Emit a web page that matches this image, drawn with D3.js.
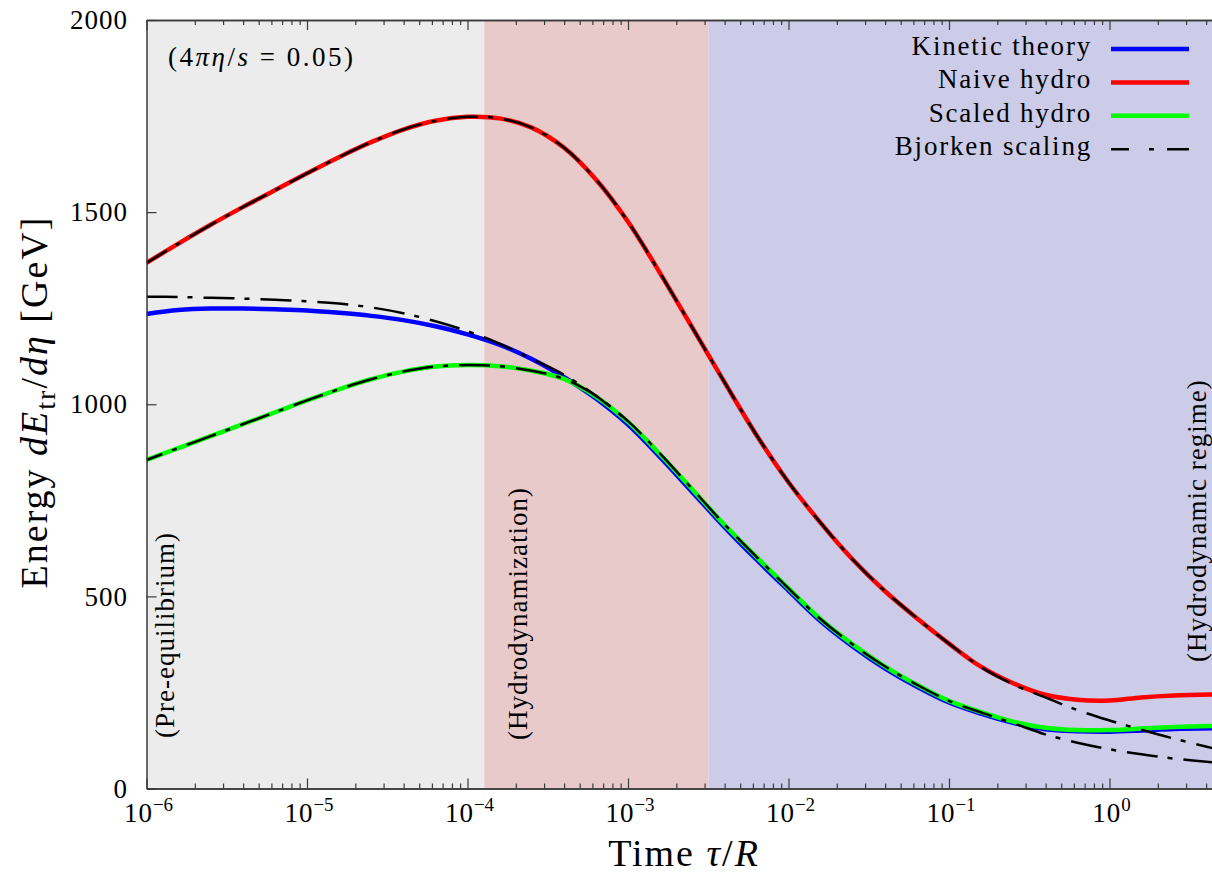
<!DOCTYPE html>
<html><head><meta charset="utf-8">
<script src="https://cdn.jsdelivr.net/npm/d3@7"></script>
<style>
body{margin:0;background:#fff}
text{font-family:"Liberation Serif","DejaVu Serif",serif;fill:#000}
</style>
</head><body>
<svg id="c" width="1212" height="875"></svg>
<script>
// ---- data ----
const tau = [1e-6,1.58e-6,2.51e-6,3.98e-6,6.31e-6,1e-5,1.58e-5,2.51e-5,3.98e-5,6.31e-5,
  1e-4,1.58e-4,2.51e-4,3.98e-4,6.31e-4,1e-3,1.58e-3,2.51e-3,3.98e-3,6.31e-3,
  0.01,0.0158,0.0251,0.0398,0.0631,0.1,0.158,0.251,0.398,0.631,1,1.58,2.51,4.4];
const kinetic = [1235,1245,1249,1249,1247,1244,1238,1230,1219,1203,
  1182,1155,1118,1071,1015,947,863,772,681,596,
  515,436,370,313,265,224,195,171,154,149,148,151,155,157];
const naiveHydro = [1368,1418,1467,1513,1557,1601,1643,1682,1715,1738,
  1748,1744,1720,1668,1585,1475,1342,1200,1058,920,
  797,692,596,514,443,377,317,274,244,231,229,237,242,245];
const scaledHydro = [855,886,917,948,979,1010,1039,1065,1085,1098,
  1102,1099,1087,1066,1020,954,870,779,687,603,
  521,441,375,318,270,228,199,174,158,152,152,156,160,163];
// Bjorken curve matched to kinetic theory: merges with the scaled-hydro one after ~1e-3
const bjorkenKinetic = [1280,1279,1277,1275,1272,1268,1262,1252,1237,1216,
  1190,1158,1118,1077,1022,956,null,null,null,null,
  null,null,null,null,null,null,null,null,null,null,null,null,null,null];
const bjorkenNaive = [1368,1418,1467,1513,1557,1601,1643,1682,1715,1738,
  1748,1744,1720,1668,1585,1475,1342,1200,1058,920,
  797,692,596,514,443,377,316,271,237,204,177,153,130,105];
const bjorkenScaled = [855,886,917,948,979,1010,1039,1065,1085,1098,
  1102,1099,1087,1066,1022,956,872,780,688,603,
  521,441,375,318,270,228,198,170,141,119,102,89,78,68];
const regionEdges = [1e-6, 1.27e-4, 3.18e-3, 4.4];
const regionNames = ["(Pre-equilibrium)","(Hydrodynamization)","(Hydrodynamic regime)"];
const yTicks = [0,500,1000,1500,2000];
const xTickExps = [-6,-5,-4,-3,-2,-1,0];
const legendLabels = ["Kinetic theory","Naive hydro","Scaled hydro","Bjorken scaling"];

// ---- layout ----
const W=1212, H=875, L=146.5, T=20, B=788.5;
const svg = d3.select("#c");
const x = d3.scaleLog().domain([1e-6, 4.4]).range([L, L + 160.5*Math.log10(4.4e6)]);
const y = d3.scaleLinear().domain([0,2000]).range([B, T]);

svg.append("defs").append("clipPath").attr("id","clip")
  .append("rect").attr("x",L).attr("y",T).attr("width",W-L).attr("height",B-T);

const bandFill = ["#ececec","#e8cacb","#cccbe8"];
const plot = svg.append("g").attr("clip-path","url(#clip)");
regionNames.forEach((n,i)=>{
  plot.append("rect").attr("x",x(regionEdges[i])).attr("y",T)
    .attr("width",x(regionEdges[i+1])-x(regionEdges[i])).attr("height",B-T)
    .attr("fill",bandFill[i]);
});

const line = d3.line().defined(d=>d[1]!=null).x(d=>x(d[0])).y(d=>y(d[1])).curve(d3.curveCatmullRom.alpha(0.5));
const pts = arr => tau.map((t,i)=>[t,arr[i]]);
const colored = [[kinetic,"#0000ff"],[naiveHydro,"#ff0000"],[scaledHydro,"#00ff00"]];
colored.forEach(([a,c])=>{
  plot.append("path").attr("d",line(pts(a))).attr("fill","none")
    .attr("stroke",c).attr("stroke-width",4.5);
});
const dash = "31,10,5,11";
[bjorkenKinetic,bjorkenNaive,bjorkenScaled].forEach((a,i)=>{
  plot.append("path").attr("d",line(pts(a))).attr("fill","none")
    .attr("stroke","#000").attr("stroke-width",2.5)
    .attr("stroke-dasharray",dash).attr("stroke-dashoffset", i*7);
});

// ---- axes ----
const majors = xTickExps.map(e=>Math.pow(10,e));
const minors = [];
xTickExps.forEach(e=>{ for(let m=2;m<=9;m++){ const v=m*Math.pow(10,e); if(v<=4.4) minors.push(v);} });

function styleAxis(g){
  g.selectAll(".domain").attr("stroke","#3a3a3a").attr("stroke-width",1.5);
  g.selectAll(".tick line").attr("stroke","#3a3a3a").attr("stroke-width",1.2);
  g.selectAll(".tick text").remove();
}
svg.append("g").attr("transform",`translate(0,${B})`)
  .call(d3.axisBottom(x).tickValues(minors).tickSize(-5).tickSizeOuter(0).tickFormat("")).call(styleAxis);
svg.append("g").attr("transform",`translate(0,${B})`)
  .call(d3.axisBottom(x).tickValues(majors).tickSize(-10).tickSizeOuter(0).tickFormat("")).call(styleAxis);
svg.append("g").attr("transform",`translate(0,${T})`)
  .call(d3.axisTop(x).tickValues(minors).tickSize(-5).tickSizeOuter(0).tickFormat("")).call(styleAxis);
svg.append("g").attr("transform",`translate(0,${T})`)
  .call(d3.axisTop(x).tickValues(majors).tickSize(-10).tickSizeOuter(0).tickFormat("")).call(styleAxis);
svg.append("g").attr("transform",`translate(${L},0)`)
  .call(d3.axisLeft(y).tickValues(yTicks).tickSize(-10).tickSizeOuter(0).tickFormat("")).call(styleAxis);

// tick labels
yTicks.forEach(v=>{
  svg.append("text").attr("x",128).attr("y",y(v)).attr("dy","0.34em")
    .attr("text-anchor","end").style("font-size","27px").style("letter-spacing","1px").text(v);
});
xTickExps.forEach(e=>{
  const t = svg.append("text").attr("x",x(Math.pow(10,e))+2).attr("y",822)
    .attr("text-anchor","middle").style("font-size","27px");
  t.append("tspan").style("letter-spacing","1px").text("10");
  t.append("tspan").attr("dy",-11).style("font-size","19px").text(e<0?("\u2212"+(-e)):String(e));
});

// axis titles
const xt = svg.append("text").attr("x",684).attr("y",866).attr("text-anchor","middle")
  .style("font-size","38px").style("letter-spacing","2px");
xt.append("tspan").text("Time ");
xt.append("tspan").style("font-style","italic").text("\u03C4");
xt.append("tspan").text("/");
xt.append("tspan").style("font-style","italic").text("R");

const yt = svg.append("text").attr("transform","translate(47,402) rotate(-90)")
  .attr("text-anchor","middle").style("font-size","38px").style("letter-spacing","2px");
yt.append("tspan").text("Energy ");
yt.append("tspan").style("font-style","italic").text("dE");
yt.append("tspan").attr("dy",8).style("font-size","28px").text("tr");
yt.append("tspan").attr("dy",-8).text("/");
yt.append("tspan").style("font-style","italic").text("d\u03B7");
yt.append("tspan").text(" [GeV]");

// annotation
const an = svg.append("text").attr("x",168).attr("y",66).style("font-size","27px").style("letter-spacing","2.5px");
an.append("tspan").text("(4");
an.append("tspan").style("font-style","italic").text("\u03C0\u03B7");
an.append("tspan").text("/");
an.append("tspan").style("font-style","italic").text("s");
an.append("tspan").text(" = 0.05)");

// region labels
const regionLabelPos = [[173.5,738],[527,740],[1206,662]];
regionNames.forEach((n,i)=>{
  svg.append("text").attr("transform",`translate(${regionLabelPos[i][0]},${regionLabelPos[i][1]}) rotate(-90)`)
    .attr("text-anchor","start").style("font-size","27px").style("letter-spacing","1px").text(n);
});

// legend
const legStyles = [["#0000ff",4.5,null],["#ff0000",4.5,null],["#00ff00",4.5,null],["#000",2.5,"18,20,5,13,22"]];
legendLabels.forEach((lab,i)=>{
  const by = 55 + i*33.4;
  svg.append("text").attr("x",1092).attr("y",by).attr("text-anchor","end")
    .style("font-size","27px").style("letter-spacing","1.8px").text(lab);
  const ln = svg.append("line").attr("x1",1111).attr("x2",1189).attr("y1",by-6).attr("y2",by-6)
    .attr("stroke",legStyles[i][0]).attr("stroke-width",legStyles[i][1]);
  if(legStyles[i][2]) ln.attr("stroke-dasharray",legStyles[i][2]);
});
</script>
</body></html>
